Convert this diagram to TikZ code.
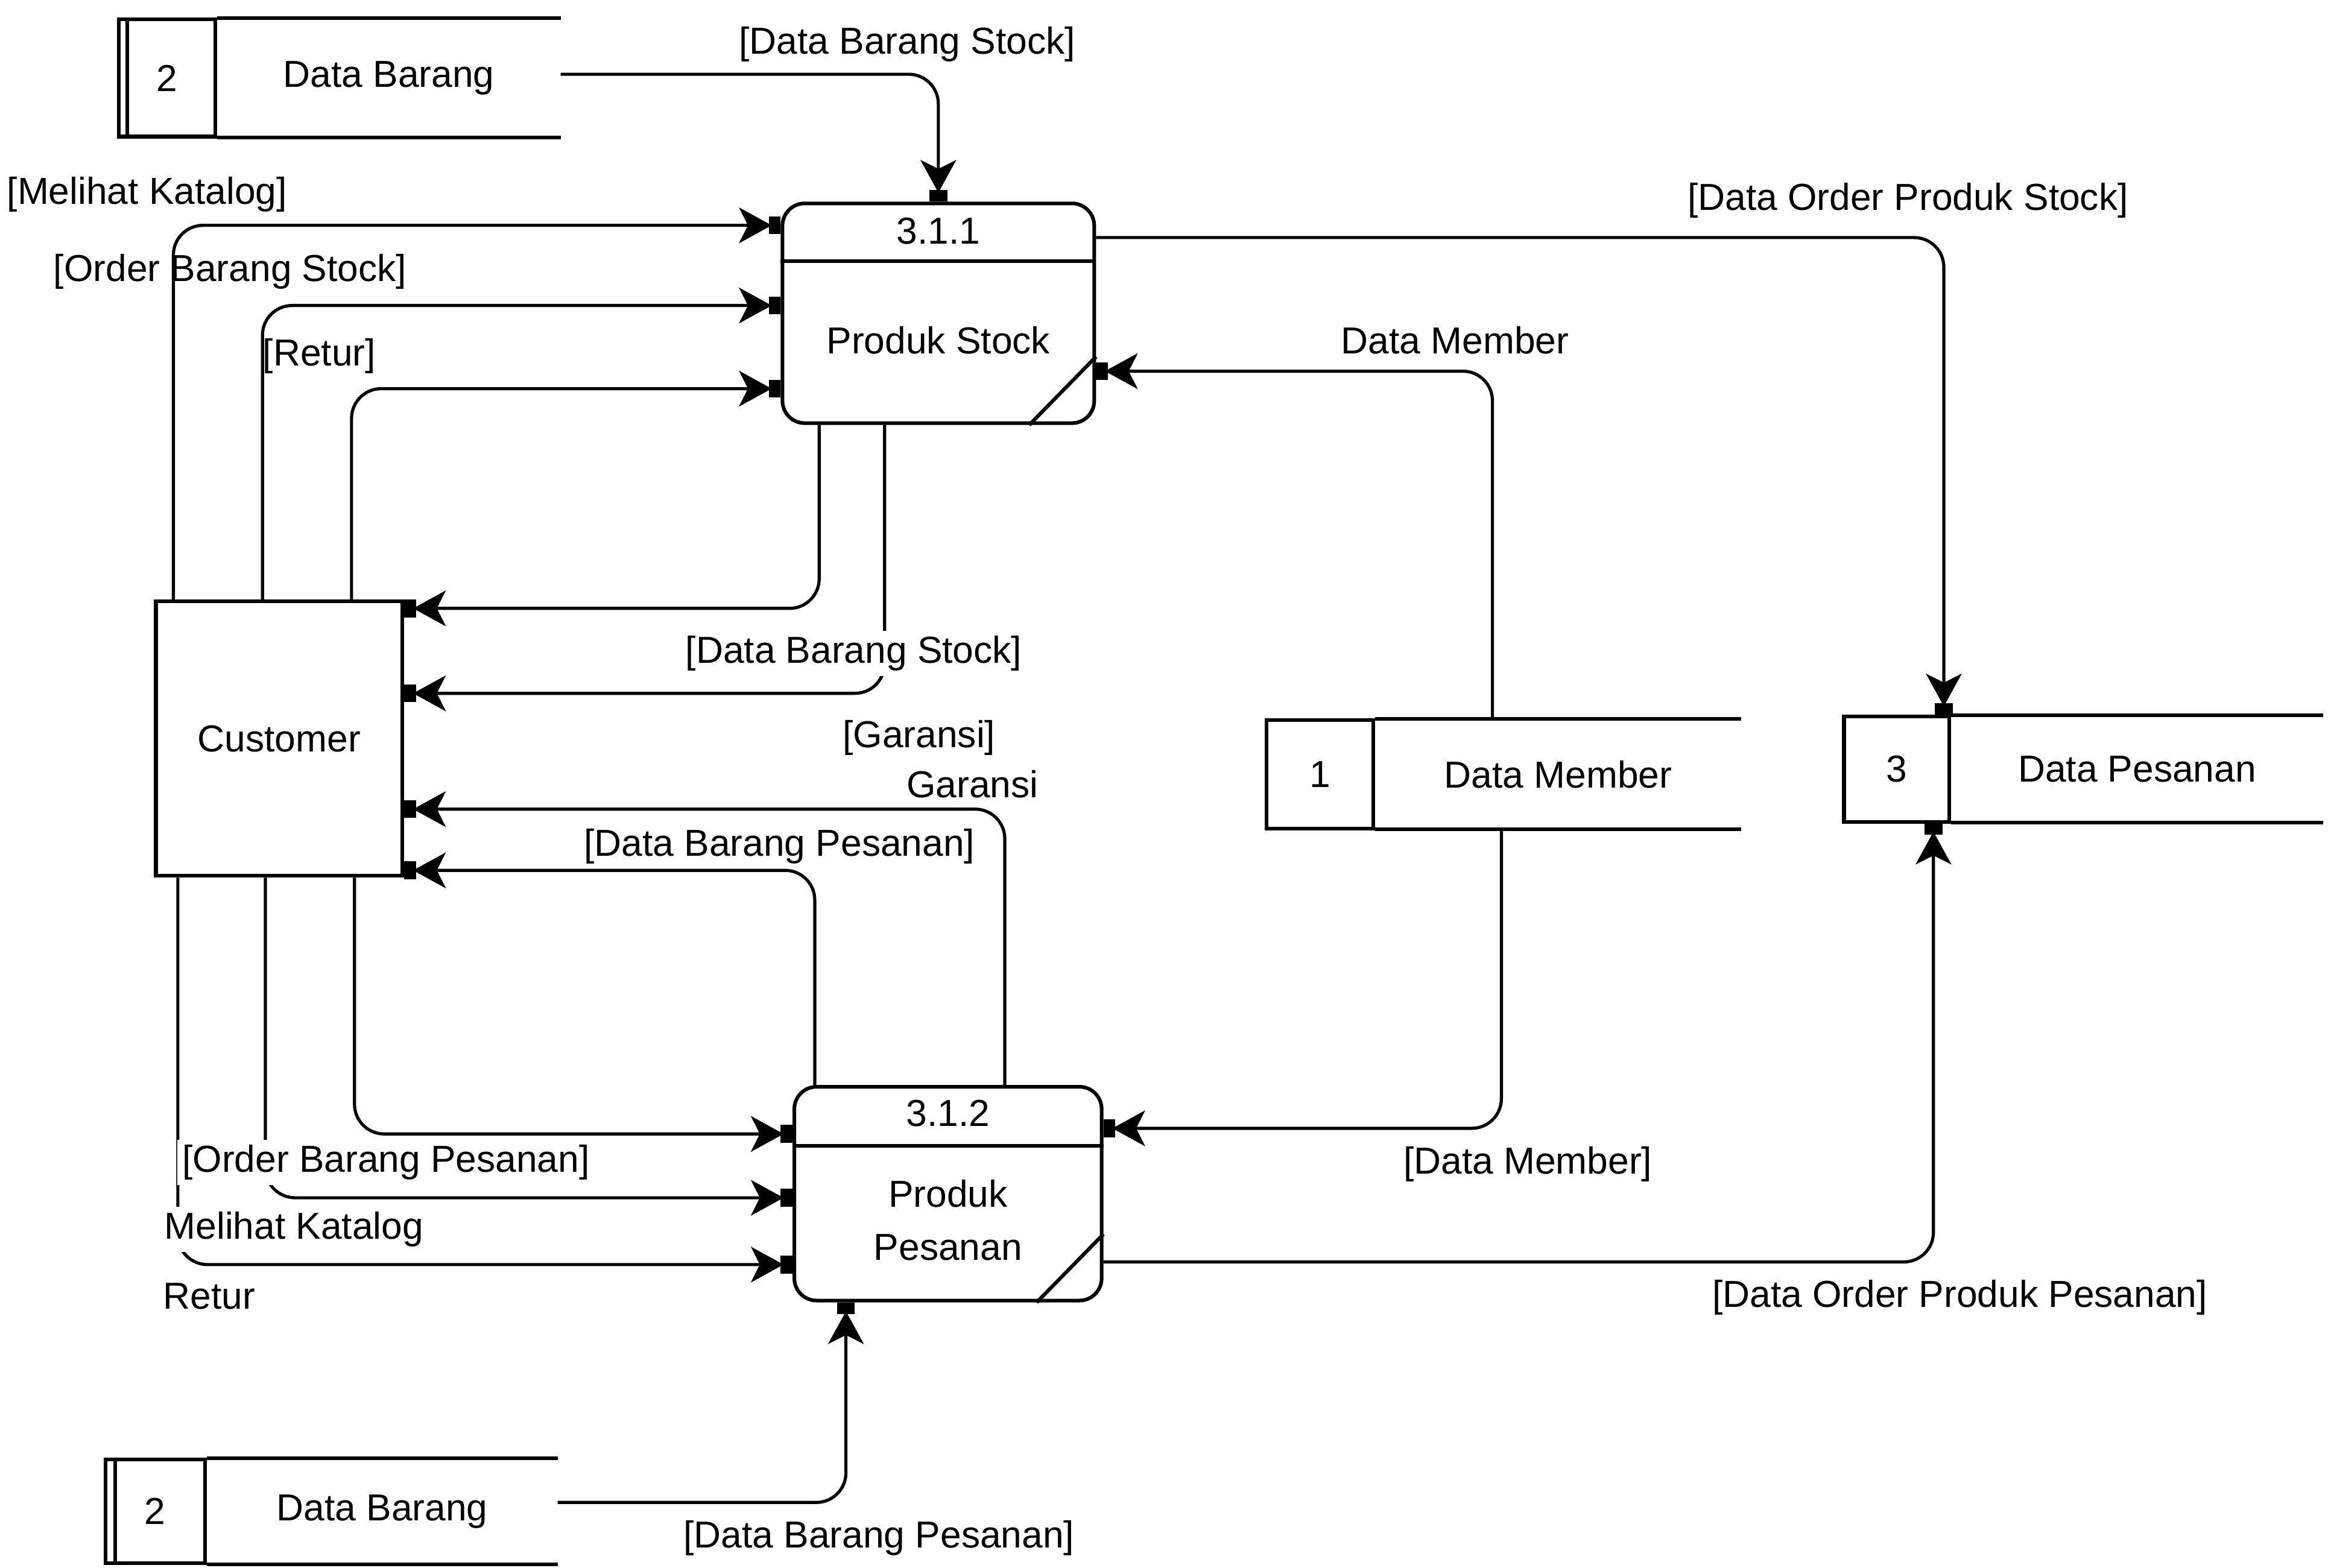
\documentclass[tikz,border=0pt]{standalone}
\usepackage{fontspec}
\setmainfont{Liberation Sans}
\usetikzlibrary{arrows.meta,positioning}

\tikzset{
  process/.style={draw, line width=0.7pt, rounded corners=1.5mm, minimum width=2.08cm, minimum height=1.46cm, inner sep=0pt},
  entity/.style={draw, line width=0.7pt, minimum width=1.66cm, minimum height=1.85cm},
  storeid/.style={draw, line width=0.7pt, minimum width=0.7cm, minimum height=0.73cm, inner sep=0pt},
  storename/.style={minimum height=0.73cm, inner sep=0pt},
  edge line/.style={line width=0.7pt},
  flow/.style={line width=0.6pt, rounded corners=2mm,
    -{Stealth[length=2.2mm,width=2.4mm,inset=0.6mm,sep=-0.2mm]Square[length=0.8mm,width=1.2mm]}},
  lbl/.style={inner sep=1pt},
  lblw/.style={inner sep=1pt, fill=white},
}

\begin{document}
\begin{tikzpicture}[font=\fontsize{7.2}{8.7}\selectfont]
    \useasboundingbox (0,0) rectangle (15.68,-10.56);

    % data stores
    \node[storeid, minimum width=0.65cm, minimum height=0.79cm] (brgid) at (1.125,-0.525) {2};
    \node[storename, minimum width=2.30cm, minimum height=0.79cm, right=0pt of brgid] (brg) {Data Barang};
    \draw[edge line] (brg.north west) -- (brg.north east) (brg.south west) -- (brg.south east);
    \draw[edge line] ([xshift=0.7mm]brgid.north west) -- ([xshift=0.7mm]brgid.south west);

    \node[storeid, minimum width=0.67cm, minimum height=0.70cm] (brg2id) at (1.045,-10.18) {2};
    \node[storename, minimum width=2.35cm, minimum height=0.70cm, right=0pt of brg2id] (brg2) {Data Barang};
    \draw[edge line] (brg2.north west) -- (brg2.north east) (brg2.south west) -- (brg2.south east);
    \draw[edge line] ([xshift=0.8mm]brg2id.north west) -- ([xshift=0.8mm]brg2id.south west);

    \node[storeid, minimum width=0.72cm] (memid) at (8.89,-5.215) {1};
    \node[storename, minimum width=2.45cm, right=0pt of memid] (mem) {Data Member};
    \draw[edge line] (mem.north west) -- (mem.north east) (mem.south west) -- (mem.south east);

    \node[storeid, minimum width=0.71cm, minimum height=0.71cm] (psnid) at (12.775,-5.18) {3};
    \node[storename, minimum width=2.49cm, minimum height=0.71cm, right=0pt of psnid] (psn) {Data Pesanan};
    \draw[edge line] (psn.north west) -- (psn.north east) (psn.south west) -- (psn.south east);

    % processes
    \node[process, minimum width=2.10cm, minimum height=1.48cm] (stok) at (6.32,-2.11) {};
    \node (stokid) at ([yshift=-2mm]stok.north) {3.1.1};
    \node (stokname) at ([yshift=-1.8mm]stok.center) {Produk Stock};
    \draw[edge line] ([yshift=-4mm]stok.north west) -- ([yshift=-4mm]stok.north east);
    \draw[edge line] ([yshift=4.6mm]stok.south east) -- ([xshift=-4.5mm]stok.south east);

    \node[process, minimum width=2.07cm, minimum height=1.44cm] (pesan) at (6.385,-8.04) {};
    \node (pesanid) at ([yshift=-1.9mm]pesan.north) {3.1.2};
    \node[align=center, font=\fontsize{7.2}{10.2}\selectfont] (pesanname) at ([yshift=-1.8mm]pesan.center) {Produk\\Pesanan};
    \draw[edge line] ([yshift=-4.1mm]pesan.north west) -- ([yshift=-4.1mm]pesan.north east);
    \draw[edge line] ([yshift=4.6mm]pesan.south east) -- ([xshift=-4.5mm]pesan.south east);

    % external entity
    \node[entity] (cust) at (1.88,-4.975) {Customer};

    % flows around 3.1.1
    \draw[flow] ([yshift=0.25mm]brg.east) -| (stok.north);
    \draw[flow] ([xshift=1.3mm]cust.north west) |- ([yshift=-1.6mm]stok.north west);
    \draw[flow] ([xshift=7.3mm]cust.north west) |- ([yshift=-7mm]stok.north west);
    \draw[flow] ([xshift=13.3mm]cust.north west) |- ([yshift=-12.6mm]stok.north west);
    \draw[flow] ([xshift=2.6mm]stok.south west) |- ([yshift=-0.6mm]cust.north east);
    \draw[flow] ([xshift=7mm]stok.south west) |- ([yshift=3.05mm]cust.east);
    \draw[flow] ([xshift=7.9mm]mem.north west) |- ([yshift=-3.9mm]stok.east);
    \draw[flow] ([yshift=5.1mm]stok.east) -| ([xshift=-0.5mm]psn.north west);

    % flows around 3.1.2
    \draw[flow] ([xshift=14.3mm]pesan.north west) |- ([yshift=-4.75mm]cust.east);
    \draw[flow] ([xshift=1.5mm]pesan.north west) |- ([yshift=0.5mm]cust.south east);
    \draw[flow] ([xshift=13.5mm]cust.south west) |- ([yshift=-3.3mm]pesan.north west);
    \draw[flow] ([xshift=7.5mm]cust.south west) |- ([yshift=-7.6mm]pesan.north west);
    \draw[flow] ([xshift=1.6mm]cust.south west) |- ([yshift=-12.1mm]pesan.north west);
    \draw[flow] ([xshift=8.5mm]mem.south west) |- ([yshift=4.4mm]pesan.east);
    \draw[flow] ([yshift=-4.6mm]pesan.east) -| ([xshift=-1.2mm]psn.south west);
    \draw[flow] ([yshift=0.6mm]brg2.east) -| ([xshift=3.6mm]pesan.south west);

    % labels
    \node[lbl] (l1) at (6.11,-0.30) {[Data Barang Stock]};
    \node[lbl] (l2) at (0.99,-1.31) {[Melihat Katalog]};
    \node[lbl] (l3) at (1.55,-1.83) {[Order Barang Stock]};
    \node[lbl] (l4) at (2.15,-2.40) {[Retur]};
    \node[lbl] (l5) at (9.80,-2.29) {Data Member};
    \node[lbl] (l6) at (12.85,-1.35) {[Data Order Produk Stock]};
    \node[lblw] (l7) at (5.75,-4.40) {[Data Barang Stock]};
    \node[lbl] (l8) at (6.19,-4.97) {[Garansi]};
    \node[lbl] (l9) at (6.55,-5.28) {Garansi};
    \node[lbl] (l10) at (5.25,-5.70) {[Data Barang Pesanan]};
    \node[lblw] (l11) at (2.60,-7.83) {[Order Barang Pesanan]};
    \node[lblw] (l12) at (1.98,-8.28) {Melihat Katalog};
    \node[lbl] (l13) at (1.41,-8.73) {Retur};
    \node[lbl] (l14) at (10.29,-7.84) {[Data Member]};
    \node[lbl] (l15) at (13.20,-8.74) {[Data Order Produk Pesanan]};
    \node[lbl] (l16) at (5.92,-10.36) {[Data Barang Pesanan]};
\end{tikzpicture}
\end{document}
